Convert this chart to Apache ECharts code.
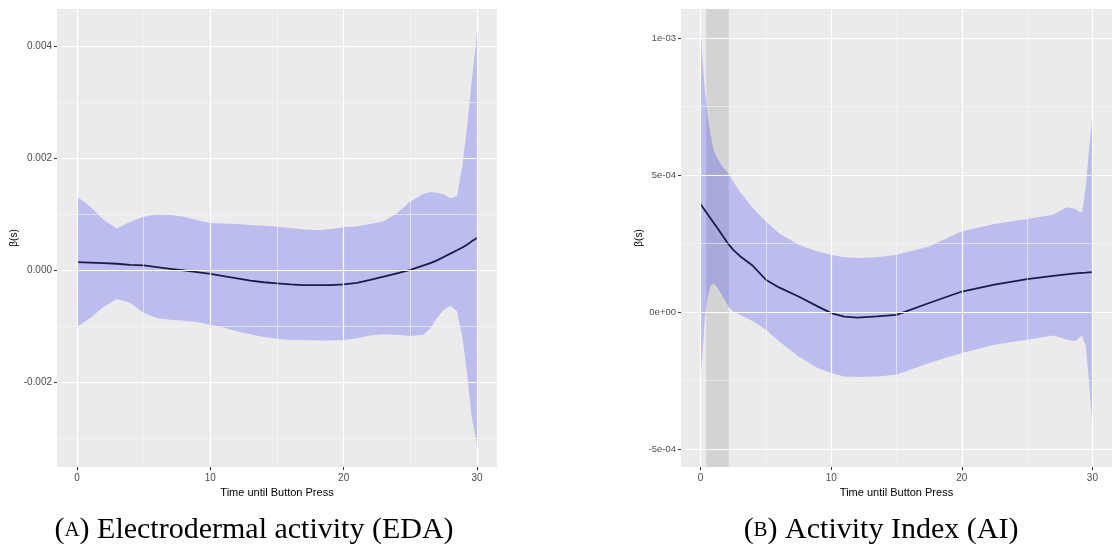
<!DOCTYPE html>
<html>
<head>
<meta charset="utf-8">
<script src="https://cdn.jsdelivr.net/npm/echarts@6/dist/echarts.min.js"></script>
<style>
html,body{margin:0;padding:0;background:#fff;}
#chart{width:1112px;height:550px;}
</style>
</head>
<body>
<div id="chart"></div>
<script>
// ---------- Data ----------
const xTicks = [0, 10, 20, 30];
const xTickLabels = ['0', '10', '20', '30'];
const xMinor = [5, 15, 25];

// (A) Electrodermal activity
const edaX = [0,1,2,3,4,5,6,7,8,9,10,11,12,13,14,15,16,17,18,19,20,21,22,23,24,25,26,26.5,27,27.5,28,28.5,28.9,29.25,29.6,30];
const edaUpper = [0.00131,0.00113,0.00089,0.00074,0.00086,0.00095,0.00099,0.00098,0.00095,0.00089,0.00084,0.00083,0.00082,0.00080,0.00079,0.00077,0.00075,0.00072,0.00071,0.00073,0.00076,0.00078,0.00082,0.00087,0.00101,0.00122,0.00136,0.00139,0.00138,0.00135,0.00128,0.00132,0.00185,0.00255,0.00335,0.00425];
const edaLower = [-0.00102,-0.00086,-0.00066,-0.00052,-0.00059,-0.00077,-0.00086,-0.00089,-0.00091,-0.00093,-0.00098,-0.00103,-0.00110,-0.00115,-0.00120,-0.00123,-0.00125,-0.00125,-0.00126,-0.00126,-0.00125,-0.00122,-0.00117,-0.00115,-0.00116,-0.00118,-0.00116,-0.00104,-0.00086,-0.00071,-0.00064,-0.00074,-0.00119,-0.00184,-0.00262,-0.00313];
const edaMean = [0.00014,0.00013,0.00012,0.00011,0.00009,0.00008,0.00005,0.00002,-0.00001,-0.00004,-0.00007,-0.00011,-0.00015,-0.00019,-0.00022,-0.00024,-0.00026,-0.00027,-0.00027,-0.00027,-0.00026,-0.00023,-0.00018,-0.00012,-0.00006,0.00000,0.00008,0.00012,0.00017,0.00023,0.00029,0.00035,0.00040,0.00045,0.00051,0.00057];
const edaYTicks = [-0.002, 0, 0.002, 0.004];
const edaYLabels = ['-0.002', '0.000', '0.002', '0.004'];
const edaYMinor = [-0.003, -0.001, 0.001, 0.003];

// (B) Activity Index
const aiX = [0,0.1,0.3,0.5,0.75,1,1.3,1.7,2.15,2.5,3,4,5,6,7.5,9,10,11,12,13.5,15,17.5,20,22.5,25,27,28,28.7,29.2,29.5,29.75,30];
const aiUpper = [1.027e-3,9.57e-4,8.23e-4,7.26e-4,6.53e-4,5.92e-4,5.6e-4,5.3e-4,5.05e-4,4.77e-4,4.4e-4,3.8e-4,3.31e-4,2.88e-4,2.46e-4,2.2e-4,2.09e-4,2.0e-4,1.97e-4,2.0e-4,2.09e-4,2.39e-4,2.95e-4,3.22e-4,3.4e-4,3.55e-4,3.83e-4,3.76e-4,3.62e-4,4.6e-4,6.0e-4,7.14e-4];
const aiLower = [-2.41e-4,-1.86e-4,-4.0e-5,4.5e-5,9.3e-5,1.06e-4,8.8e-5,5.7e-5,1.8e-5,2e-6,-1.0e-5,-3.4e-5,-6.5e-5,-1.07e-4,-1.62e-4,-2.05e-4,-2.23e-4,-2.35e-4,-2.37e-4,-2.35e-4,-2.29e-4,-1.86e-4,-1.5e-4,-1.19e-4,-1.01e-4,-8.6e-5,-1.0e-4,-1.07e-4,-8.6e-5,-1.26e-4,-2.59e-4,-4.23e-4];
const aiMean = [3.94e-4,3.87e-4,3.74e-4,3.6e-4,3.43e-4,3.26e-4,3.06e-4,2.78e-4,2.47e-4,2.27e-4,2.05e-4,1.69e-4,1.18e-4,9.0e-5,5.7e-5,2.0e-5,-4e-6,-1.7e-5,-2.0e-5,-1.6e-5,-1.0e-5,3.3e-5,7.5e-5,1.0e-4,1.2e-4,1.32e-4,1.38e-4,1.41e-4,1.43e-4,1.44e-4,1.45e-4,1.46e-4];
const aiYTicks = [-5e-4, 0, 5e-4, 1e-3];
const aiYLabels = ['-5e-04', '0e+00', '5e-04', '1e-03'];
const aiYMinor = [-2.5e-4, 2.5e-4, 7.5e-4];
const aiShade = [0.43, 2.15];

const captions = [
  {letter: 'A', text: ' Electrodermal activity (EDA)'},
  {letter: 'B', text: ' Activity Index (AI)'}
];

// ---------- Helpers ----------
const PANEL_BG = '#EBEBEB';
const SANS = 'Liberation Sans, Arial, sans-serif';

function labelFor(ticks, labels) {
  return function (v) {
    for (let i = 0; i < ticks.length; i++) {
      if (Math.abs(v - ticks[i]) < 1e-9) return labels[i];
    }
    return '';
  };
}

function gridLinesSeries(idx, yMajor, yMinor) {
  const data = [];
  yMinor.forEach(v => data.push({yAxis: v, lineStyle: {color: '#F7F7F7', width: 0.6}}));
  xMinor.forEach(v => data.push({xAxis: v, lineStyle: {color: '#F7F7F7', width: 0.6}}));
  yMajor.forEach(v => data.push({yAxis: v, lineStyle: {color: '#FFFFFF', width: 1.2}}));
  xTicks.forEach(v => data.push({xAxis: v, lineStyle: {color: '#FFFFFF', width: 1.2}}));
  return {
    type: 'line', xAxisIndex: idx, yAxisIndex: idx, z: 1, silent: true,
    data: [[0, 0]], showSymbol: false, lineStyle: {opacity: 0},
    markLine: {
      silent: true, symbol: ['none', 'none'], animation: false, precision: 12,
      label: {show: false}, emphasis: {disabled: true},
      lineStyle: {type: 'solid'},
      data: data
    }
  };
}

function bandSeries(idx, X, U, L) {
  return {
    type: 'custom', xAxisIndex: idx, yAxisIndex: idx, z: 2, silent: true, clip: true,
    data: X.map((x, i) => [x, L[i], U[i]]),
    encode: {x: 0, y: [1, 2]},
    renderItem: function (params, api) {
      if (params.dataIndex !== 0) return null;
      const pts = [];
      for (let i = 0; i < X.length; i++) pts.push(api.coord([X[i], U[i]]));
      for (let i = X.length - 1; i >= 0; i--) pts.push(api.coord([X[i], L[i]]));
      return {type: 'polygon', shape: {points: pts}, style: {fill: 'rgba(0,0,255,0.2)'}};
    }
  };
}

function meanSeries(idx, X, M, shade) {
  const s = {
    type: 'line', xAxisIndex: idx, yAxisIndex: idx, z: 3, silent: true,
    data: X.map((x, i) => [x, M[i]]),
    showSymbol: false, smooth: false,
    lineStyle: {color: '#1b1b48', width: 1.8}
  };
  if (shade) {
    s.markArea = {
      silent: true,
      itemStyle: {color: 'rgba(0,0,0,0.1)'},
      data: [[{xAxis: shade[0]}, {xAxis: shade[1]}]]
    };
  }
  return s;
}

function xAxisDef(idx) {
  return {
    type: 'value', gridIndex: idx, min: -1.5, max: 31.5,
    axisLine: {show: false, onZero: false},
    splitLine: {show: false},
    axisTick: {show: true, length: 3, lineStyle: {color: '#333333', width: 1}, customValues: xTicks},
    axisLabel: {color: '#4D4D4D', fontSize: 10, fontFamily: SANS, margin: 6, customValues: xTicks,
      formatter: labelFor(xTicks, xTickLabels)},
    name: 'Time until Button Press', nameLocation: 'middle', nameGap: 20,
    nameTextStyle: {color: '#000000', fontSize: 11, fontFamily: SANS}
  };
}

function yAxisDef(idx, min, max, ticks, labels, fontSize) {
  return {
    type: 'value', gridIndex: idx, min: min, max: max,
    axisLine: {show: false, onZero: false},
    splitLine: {show: false},
    axisTick: {show: true, length: 3, lineStyle: {color: '#333333', width: 1}, customValues: ticks},
    axisLabel: {color: '#4D4D4D', fontSize: fontSize, fontFamily: SANS, margin: 5, customValues: ticks,
      formatter: labelFor(ticks, labels)},
    name: 'β(s)', nameLocation: 'middle', nameGap: 32, nameRotate: 90,
    nameTextStyle: {color: '#000000', fontSize: 10, fontFamily: SANS}
  };
}

const chart = echarts.init(document.getElementById('chart'), null, {renderer: 'canvas'});
chart.setOption({
  animation: false,
  backgroundColor: '#FFFFFF',
  grid: [
    {left: 57, top: 9, width: 440, height: 458, show: true, backgroundColor: PANEL_BG, borderWidth: 0},
    {left: 681, top: 9, width: 440, height: 458, show: true, backgroundColor: PANEL_BG, borderWidth: 0}
  ],
  xAxis: [xAxisDef(0), xAxisDef(1)],
  yAxis: [
    yAxisDef(0, -0.00352, 0.00466, edaYTicks, edaYLabels, 10),
    yAxisDef(1, -5.66e-4, 1.107e-3, aiYTicks, aiYLabels, 9.5)
  ],
  series: [
    gridLinesSeries(0, edaYTicks, edaYMinor),
    bandSeries(0, edaX, edaUpper, edaLower),
    meanSeries(0, edaX, edaMean, null),
    gridLinesSeries(1, aiYTicks, aiYMinor),
    bandSeries(1, aiX, aiUpper, aiLower),
    meanSeries(1, aiX, aiMean, aiShade)
  ],
  graphic: captions.map((c, i) => ({
    type: 'text',
    x: i === 0 ? 254 : 881,
    y: 530,
    silent: true,
    style: {
      text: '(' + '{sc|' + c.letter + '}' + ')' + c.text,
      rich: {sc: {fontSize: 21, fontFamily: 'Liberation Serif, serif', fill: '#000'}},
      fontSize: 30,
      fontFamily: 'Liberation Serif, serif',
      fill: '#000',
      align: 'center',
      verticalAlign: 'middle'
    }
  }))
});
</script>
</body>
</html>
